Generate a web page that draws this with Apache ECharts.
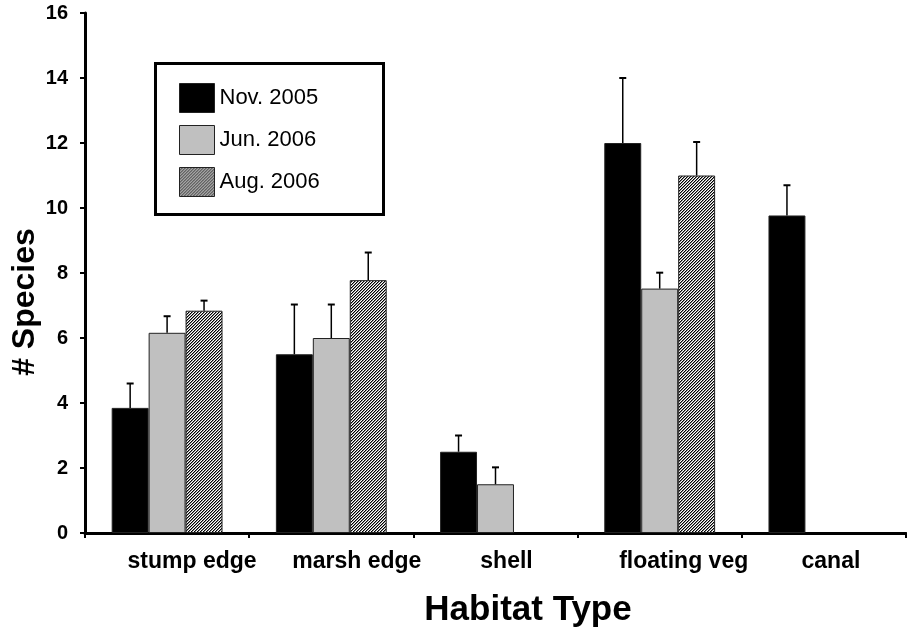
<!DOCTYPE html>
<html>
<head>
<meta charset="utf-8">
<script src="https://cdn.jsdelivr.net/npm/echarts@6/dist/echarts.min.js"></script>
<style>
html,body{margin:0;padding:0;background:#fff;}
#chart{width:907px;height:633px;}
</style>
</head>
<body>
<div id="chart"></div>
<script>
// ---- data ----
var categories = ['stump edge', 'marsh edge', 'shell', 'floating veg', 'canal'];
var labelShift = [50, 51, 22, 48, 14];
var seriesNames = ['Nov. 2005', 'Jun. 2006', 'Aug. 2006'];
var nov2005 = [3.85, 5.5, 2.5, 12.0, 9.77];
var jun2006 = [6.16, 6.0, 1.5, 7.52, null];
var aug2006 = [6.84, 7.78, null, 11.0, null];
var nov2005Err = [4.6, 7.03, 3.0, 14.0, 10.7];
var jun2006Err = [6.67, 7.03, 2.02, 8.01, null];
var aug2006Err = [7.15, 8.63, null, 12.03, null];
var yTicks = { min: 0, max: 16, interval: 2 };

// ---- hatch pattern ----
function makeHatch() {
  var n = 3;
  var c = document.createElement('canvas');
  c.width = n; c.height = n;
  var g = c.getContext('2d');
  g.fillStyle = '#ffffff';
  g.fillRect(0, 0, n, n);
  for (var i = 0; i < n; i++) {
    g.fillStyle = '#000000';
    g.fillRect(i, n - 1 - i, 1, 1);
    g.fillStyle = '#8a8a8a';
    g.fillRect((i + 1) % n, n - 1 - i, 1, 1);
  }
  return c;
}
var hatch = { image: makeHatch(), repeat: 'repeat' };

var means = [nov2005, jun2006, aug2006];
var errs = [nov2005Err, jun2006Err, aug2006Err];
var fills = ['#000000', '#c0c0c0', hatch];
var gapPct = 0.325;

var errData = [];
for (var s = 0; s < 3; s++) {
  for (var k = 0; k < categories.length; k++) {
    if (means[s][k] != null && errs[s][k] != null) {
      errData.push([k, means[s][k], errs[s][k], s]);
    }
  }
}

var chart = echarts.init(document.getElementById('chart'), null, { renderer: 'canvas' });
var font = '"Liberation Sans", Arial, sans-serif';

var barSeries = seriesNames.map(function (name, i) {
  return {
    name: name,
    type: 'bar',
    data: means[i].map(function (v) { return v == null ? '-' : v; }),
    barGap: '0%',
    barCategoryGap: (gapPct * 100) + '%',
    itemStyle: { color: fills[i], borderColor: '#222', borderWidth: 1 },
    emphasis: { disabled: true },
    animation: false,
    z: 2
  };
});

var errSeries = {
  type: 'custom',
  data: errData,
  z: 3,
  animation: false,
  silent: true,
  renderItem: function (params, api) {
    var cat = api.value(0);
    var top = api.coord([cat, api.value(1)]);
    var hi = api.coord([cat, api.value(2)]);
    var slot = api.size([1, 0])[0];
    var bw = slot * (1 - gapPct) / 3;
    var x = top[0] + (api.value(3) - 1) * bw;
    var cap = 3.5;
    return {
      type: 'group',
      children: [
        { type: 'line', shape: { x1: x, y1: top[1], x2: x, y2: hi[1] }, style: { stroke: '#000', lineWidth: 1.5 } },
        { type: 'line', shape: { x1: x - cap, y1: hi[1], x2: x + cap, y2: hi[1] }, style: { stroke: '#000', lineWidth: 2 } }
      ]
    };
  }
};

var option = {
  backgroundColor: '#ffffff',
  animation: false,
  grid: { left: 85, right: 1, top: 13, bottom: 100, containLabel: false },
  legend: {
    orient: 'vertical',
    left: 179,
    top: 83,
    padding: 0,
    icon: 'rect',
    itemWidth: 35,
    itemHeight: 29,
    itemGap: 12,
    data: seriesNames,
    itemStyle: { borderColor: '#222', borderWidth: 1 },
    textStyle: { fontFamily: font, fontSize: 22, color: '#000', padding: [2, 0, 0, 0] },
    selectedMode: false
  },
  xAxis: {
    type: 'category',
    data: categories.map(function (c, i) {
      return { value: c, textStyle: { padding: [0, 0, 0, labelShift[i]] } };
    }),
    boundaryGap: true,
    axisLine: { lineStyle: { color: '#000', width: 3 } },
    axisTick: { show: true, inside: false, length: 5, interval: 0, alignWithLabel: false, lineStyle: { color: '#000', width: 2 } },
    axisLabel: { interval: 0, hideOverlap: false, fontFamily: font, fontWeight: 'bold', fontSize: 23, color: '#000', margin: 17 },
    splitLine: { show: false }
  },
  yAxis: {
    type: 'value',
    min: yTicks.min,
    max: yTicks.max,
    interval: yTicks.interval,
    axisLine: { show: true, lineStyle: { color: '#000', width: 3 } },
    axisTick: { show: true, inside: false, length: 5, lineStyle: { color: '#000', width: 2 } },
    axisLabel: { fontFamily: font, fontWeight: 'bold', fontSize: 20, color: '#000', margin: 17 },
    splitLine: { show: false }
  },
  graphic: [
    {
      type: 'rect', left: 154, top: 62, z: 0,
      shape: { width: 228, height: 151 },
      style: { fill: '#fff', stroke: '#000', lineWidth: 3 }
    },
    {
      type: 'text', x: 528, y: 610, z: 10,
      style: { text: 'Habitat Type', font: 'bold 35px ' + font, fill: '#000', textAlign: 'center', textVerticalAlign: 'middle' }
    },
    {
      type: 'text', x: 25, y: 302, rotation: Math.PI / 2, z: 10,
      style: { text: '# Species', font: 'bold 32px ' + font, fill: '#000', textAlign: 'center', textVerticalAlign: 'middle' }
    }
  ],
  series: barSeries.concat([errSeries])
};
chart.setOption(option);
</script>
</body>
</html>
